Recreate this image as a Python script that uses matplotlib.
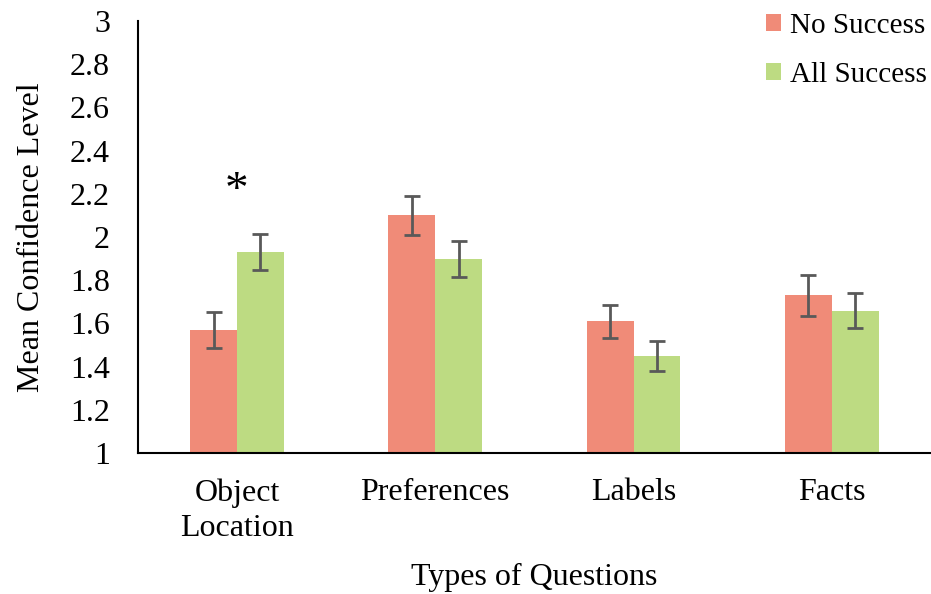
import numpy as np
import matplotlib

matplotlib.use("Agg")
import matplotlib.pyplot as plt
from matplotlib.patches import Patch

plt.rcParams["font.family"] = ["Liberation Serif", "DejaVu Serif"]

# ---------------------------------------------------------------------------
# Data
# ---------------------------------------------------------------------------
categories = ["Object\nLocation", "Preferences", "Labels", "Facts"]
no_success = [1.57, 2.10, 1.61, 1.73]
no_success_err = [0.085, 0.09, 0.077, 0.095]
all_success = [1.93, 1.90, 1.45, 1.66]
all_success_err = [0.083, 0.083, 0.07, 0.08]
series_labels = ["No Success", "All Success"]
yticks = [1, 1.2, 1.4, 1.6, 1.8, 2, 2.2, 2.4, 2.6, 2.8, 3]
ytick_labels = ["1", "1.2", "1.4", "1.6", "1.8", "2", "2.2", "2.4", "2.6", "2.8", "3"]
star_idx = 0
star_y = 2.21

RED = "#F08B78"
GREEN = "#BDDB82"
ERR = "#595959"
FS = 23

fig = plt.figure(figsize=(9.31, 5.94), dpi=100)
ax = fig.add_axes([0.148, 0.237, 0.852, 0.728])

x = np.arange(len(categories))
w = 0.236
err_kw = dict(ecolor=ERR, elinewidth=2, capsize=6, capthick=2)
ax.bar(x - w / 2, no_success, w, color=RED, yerr=no_success_err,
       error_kw=err_kw, zorder=2)
ax.bar(x + w / 2, all_success, w, color=GREEN, yerr=all_success_err,
       error_kw=err_kw, zorder=2)

ax.text(x[star_idx], star_y, "*", ha="center", va="center", fontsize=34)

ax.set_xlim(-0.5, len(categories) - 0.5)
ax.set_ylim(1, 3)
ax.set_yticks(yticks)
ax.set_yticklabels(ytick_labels, fontsize=FS)
ax.set_xticks(x)
ax.set_xticklabels(categories, fontsize=FS, linespacing=1.3)
ax.tick_params(axis="both", length=0)
ax.tick_params(axis="y", pad=20)
ax.tick_params(axis="x", pad=18)

for side in ("top", "right"):
    ax.spines[side].set_visible(False)
for side in ("left", "bottom"):
    ax.spines[side].set_linewidth(1.5)
    ax.spines[side].set_color("black")

ax.set_xlabel("Types of Questions", fontsize=FS, labelpad=14)
ax.set_ylabel("Mean Confidence Level", fontsize=FS, labelpad=17)

handles = [Patch(facecolor=RED), Patch(facecolor=GREEN)]
ax.legend(handles, series_labels, loc="upper right", bbox_to_anchor=(1.009, 1.045),
          frameon=False, fontsize=21, handlelength=0.5, handleheight=0.5,
          handletextpad=0.3, labelspacing=0.78, borderaxespad=0.0)

fig.savefig("out.png", dpi=100)
